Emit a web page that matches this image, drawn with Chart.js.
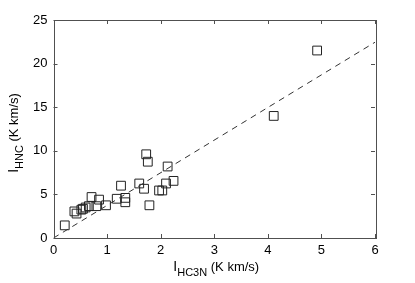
<!DOCTYPE html>
<html><head><meta charset="utf-8">
<script src="https://cdn.jsdelivr.net/npm/chart.js@4"></script>
<style>html,body{margin:0;padding:0;background:#fff}#wrap{width:415px;height:283px}</style>
</head><body><div id="wrap"><canvas id="c" width="415" height="283"></canvas></div>
<script>
const xVals = [0.21,0.39,0.43,0.52,0.55,0.60,0.66,0.71,0.80,0.85,0.98,1.18,1.26,1.34,1.34,1.60,1.69,1.73,1.76,1.79,1.97,2.03,2.10,2.13,2.24,4.11,4.92];
const yVals = [1.45,3.05,2.80,3.25,3.35,3.50,3.65,4.70,3.65,4.40,3.75,4.50,6.00,4.60,4.10,6.25,5.65,9.60,8.75,3.75,5.45,5.45,6.25,8.20,6.55,14.00,21.50];
const fitX = [0, 6];
const fitY = [0, 22.45];
const xTicks = [0,1,2,3,4,5,6];
const yTicks = [0,5,10,15,20,25];

const FONT = 'Liberation Sans, Arial, Helvetica, sans-serif';

const framePlugin = {
  id: 'frame',
  afterDraw(chart) {
    const {ctx, chartArea: a, scales: {x, y}} = chart;
    ctx.save();
    ctx.strokeStyle = '#505050';
    ctx.lineWidth = 1;
    ctx.strokeRect(Math.round(a.left)+0.5, Math.round(a.top)+0.5, Math.round(a.right-a.left), Math.round(a.bottom-a.top));
    const tl = 4;
    ctx.beginPath();
    xTicks.forEach(v => {
      const px = Math.round(x.getPixelForValue(v)) + 0.5;
      ctx.moveTo(px, a.bottom); ctx.lineTo(px, a.bottom - tl);
      ctx.moveTo(px, a.top); ctx.lineTo(px, a.top + tl);
    });
    yTicks.forEach(v => {
      const py = Math.round(y.getPixelForValue(v)) + 0.5;
      ctx.moveTo(a.left, py); ctx.lineTo(a.left + tl, py);
      ctx.moveTo(a.right, py); ctx.lineTo(a.right - tl, py);
    });
    ctx.stroke();

    ctx.fillStyle = '#000';
    ctx.textBaseline = 'alphabetic';
    function drawSub(parts, cx, cy) {
      let w = 0;
      parts.forEach(p => { ctx.font = p[1] + 'px ' + FONT; w += ctx.measureText(p[0]).width; });
      let xx = cx - w / 2;
      parts.forEach(p => { ctx.font = p[1] + 'px ' + FONT; ctx.textAlign = 'left'; ctx.fillText(p[0], xx, cy + p[2]); xx += ctx.measureText(p[0]).width; });
    }
    const cxX = (a.left + a.right) / 2;
    drawSub([['I', 14, 0], ['HC3N', 11, 5], [' (K km/s)', 13, 0]], cxX + 2, 271);
    ctx.save();
    ctx.translate(18, (a.top + a.bottom) / 2 + 4);
    ctx.rotate(-Math.PI / 2);
    drawSub([['I', 14, 0], ['HNC', 11, 5], [' (K km/s)', 13, 0]], 0, 0);
    ctx.restore();
    ctx.restore();
  }
};

new Chart(document.getElementById('c'), {
  type: 'scatter',
  data: {
    datasets: [
      {
        type: 'line',
        data: fitX.map((v, i) => ({x: v, y: fitY[i]})),
        borderColor: '#333',
        borderWidth: 1,
        borderDash: [6, 5],
        pointRadius: 0,
        fill: false
      },
      {
        data: xVals.map((v, i) => ({x: v, y: yVals[i]})),
        pointStyle: 'rect',
        pointRadius: 6.2,
        pointBorderColor: '#222',
        pointBackgroundColor: 'rgba(0,0,0,0)',
        pointBorderWidth: 1,
        showLine: false
      }
    ]
  },
  options: {
    responsive: false,
    animation: false,
    devicePixelRatio: 1,
    layout: {padding: {top: 20, right: 40, left: 0, bottom: 0}},
    plugins: {legend: {display: false}, tooltip: {enabled: false}},
    scales: {
      x: {
        type: 'linear', min: 0, max: 6,
        afterBuildTicks: s => { s.ticks = xTicks.map(v => ({value: v})); },
        afterFit: s => { s.height = 45; },
        grid: {display: false, drawTicks: false},
        border: {display: false},
        ticks: {color: '#000', font: {family: FONT, size: 13}, padding: 5, maxRotation: 0}
      },
      y: {
        type: 'linear', min: 0, max: 25,
        afterBuildTicks: s => { s.ticks = yTicks.map(v => ({value: v})); },
        afterFit: s => { s.width = 53.5; },
        grid: {display: false, drawTicks: false},
        border: {display: false},
        ticks: {color: '#000', font: {family: FONT, size: 13}, padding: 6}
      }
    }
  },
  plugins: [framePlugin]
});
</script>
</body></html>
